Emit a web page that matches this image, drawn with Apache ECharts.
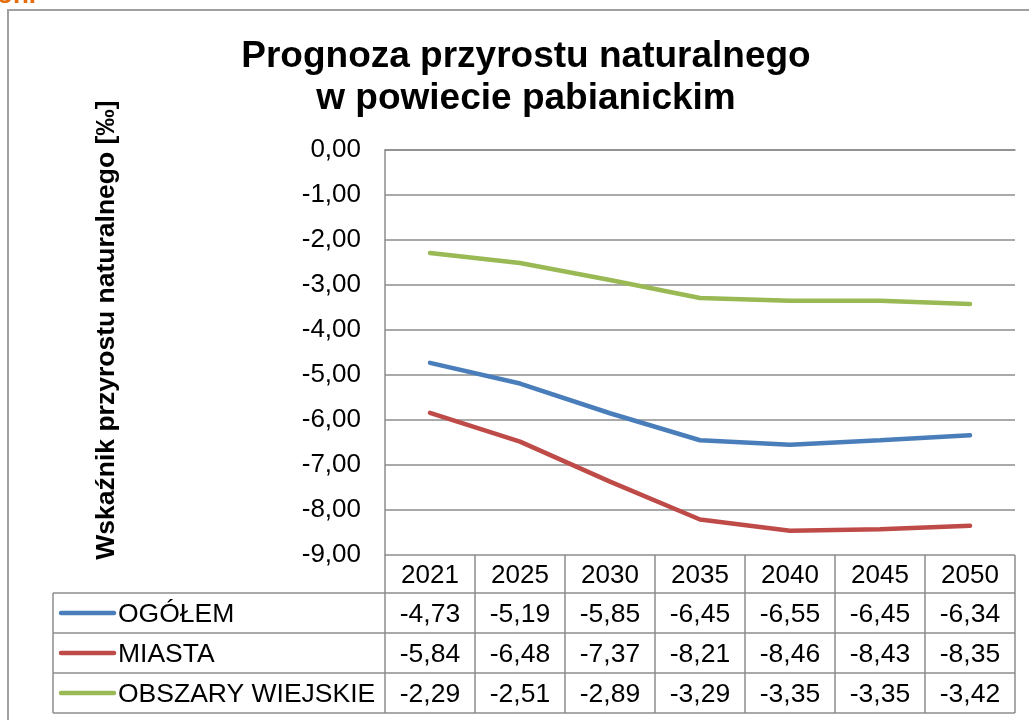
<!DOCTYPE html>
<html>
<head>
<meta charset="utf-8">
<style>
  html, body { margin: 0; padding: 0; background: #fff; }
  #main { width: 1029px; height: 720px; }
</style>
<script src="https://cdn.jsdelivr.net/npm/echarts@6/dist/echarts.min.js"></script>
</head>
<body>
<div id="main"></div>
<script>
var chart = echarts.init(document.getElementById('main'));

// dane
const years = ['2021', '2025', '2030', '2035', '2040', '2045', '2050'];
const seriesNames = ['OGÓŁEM', 'MIASTA', 'OBSZARY WIEJSKIE'];
const ogolem = [-4.73, -5.19, -5.85, -6.45, -6.55, -6.45, -6.34];
const miasta = [-5.84, -6.48, -7.37, -8.21, -8.46, -8.43, -8.35];
const wiejskie = [-2.29, -2.51, -2.89, -3.29, -3.35, -3.35, -3.42];
const colors = ['#4A7EBB', '#BE4B48', '#98B954'];
const rows = [ogolem, miasta, wiejskie];

const FONT = 'Liberation Sans, Arial, sans-serif';
const fmt = (v) => v.toFixed(2).replace('.', ',');

const gridLeft = 385, gridRight = 1015, gridTop = 150, gridBottom = 555;
const rowH = 40, headerH = 38;
const lineColor = '#8c8c8c';
const fs = 26;

var option = {
    animation: false,
    backgroundColor: '#fff',
    grid: {
        left: gridLeft,
        right: 1029 - gridRight,
        top: gridTop,
        bottom: 720 - gridBottom,
        containLabel: false,
    },
    xAxis: {
        type: 'category',
        data: years,
        boundaryGap: true,
        axisLine: { lineStyle: { color: lineColor, width: 1.5 } },
        axisTick: { show: false },
        axisLabel: {
            margin: 8,
            fontSize: fs,
            fontFamily: FONT,
            color: '#000',
        },
    },
    yAxis: {
        type: 'value',
        min: -9,
        max: 0,
        interval: 1,
        axisLine: { show: true, lineStyle: { color: lineColor, width: 1.5 } },
        axisTick: { show: false },
        splitLine: { lineStyle: { color: lineColor, width: 1.5 } },
        axisLabel: {
            margin: 24,
            fontSize: fs,
            fontFamily: FONT,
            color: '#000',
            formatter: (v) => fmt(v),
        },
    },
    series: seriesNames.map((name, i) => ({
        name: name,
        type: 'line',
        data: rows[i],
        symbol: 'none',
        smooth: false,
        lineStyle: { color: colors[i], width: 4.5, cap: 'round' },
        z: 3,
    })),
};
chart.setOption(option);

// tabela danych i napisy
var colW = (gridRight - gridLeft) / years.length;
var legendLeft = 53;
var tableTop = gridBottom + headerH;
var g = [];

// ramka wykresu
g.push({ type: 'rect', shape: { x: 8, y: 10, width: 1100, height: 800 },
    style: { fill: null, stroke: '#a0a0a0', lineWidth: 2 }, z: 1 });

// fragment tekstu z poprzedniej strony
g.push({ type: 'text', x: -3, y: 9, style: { text: 'ón.', fill: '#E46C0A',
    font: 'bold 26px ' + FONT, textVerticalAlign: 'bottom' }, z: 10 });

// tytul
g.push({ type: 'text', x: 526, y: 57, style: { text: 'Prognoza przyrostu naturalnego',
    font: 'bold 37px ' + FONT, fill: '#000', textAlign: 'center', textVerticalAlign: 'middle' } });
g.push({ type: 'text', x: 526, y: 99, style: { text: 'w powiecie pabianickim',
    font: 'bold 37px ' + FONT, fill: '#000', textAlign: 'center', textVerticalAlign: 'middle' } });

// nazwa osi Y
g.push({ type: 'text', x: 107, y: 330, rotation: Math.PI / 2, style: {
    text: 'Wskaźnik przyrostu naturalnego [‰]', font: 'bold 26.5px ' + FONT, fill: '#000',
    textAlign: 'center', textVerticalAlign: 'middle' } });

// linie tabeli
for (var r = 0; r <= rows.length; r++) {
    var y = tableTop + r * rowH;
    g.push({ type: 'line', shape: { x1: legendLeft, y1: y, x2: gridRight, y2: y },
        style: { stroke: lineColor, lineWidth: 1.5 } });
}
var tableBottom = tableTop + rows.length * rowH;
g.push({ type: 'line', shape: { x1: legendLeft, y1: tableTop, x2: legendLeft, y2: tableBottom },
    style: { stroke: lineColor, lineWidth: 1.5 } });
for (var c = 0; c <= years.length; c++) {
    var x = gridLeft + c * colW;
    g.push({ type: 'line', shape: { x1: x, y1: gridBottom, x2: x, y2: tableBottom },
        style: { stroke: lineColor, lineWidth: 1.5 } });
}

// legenda i wartosci
rows.forEach(function (vals, r) {
    var cy = tableTop + r * rowH + rowH / 2;
    g.push({ type: 'line', shape: { x1: 61, y1: cy, x2: 114, y2: cy },
        style: { stroke: colors[r], lineWidth: 4.5, lineCap: 'round' } });
    g.push({ type: 'text', x: 118, y: cy + 1.5, style: { text: seriesNames[r], font: '26.5px ' + FONT,
        fill: '#000', textVerticalAlign: 'middle' } });
    vals.forEach(function (v, i) {
        var px = chart.convertToPixel({ xAxisIndex: 0 }, i);
        g.push({ type: 'text', x: px, y: cy + 1.5, style: { text: fmt(v), font: '26.5px ' + FONT,
            fill: '#000', textAlign: 'center', textVerticalAlign: 'middle' } });
    });
});

chart.setOption({ graphic: { elements: g } });

window.addEventListener('resize', function () {
    chart.resize();
});
</script>
</body>
</html>
